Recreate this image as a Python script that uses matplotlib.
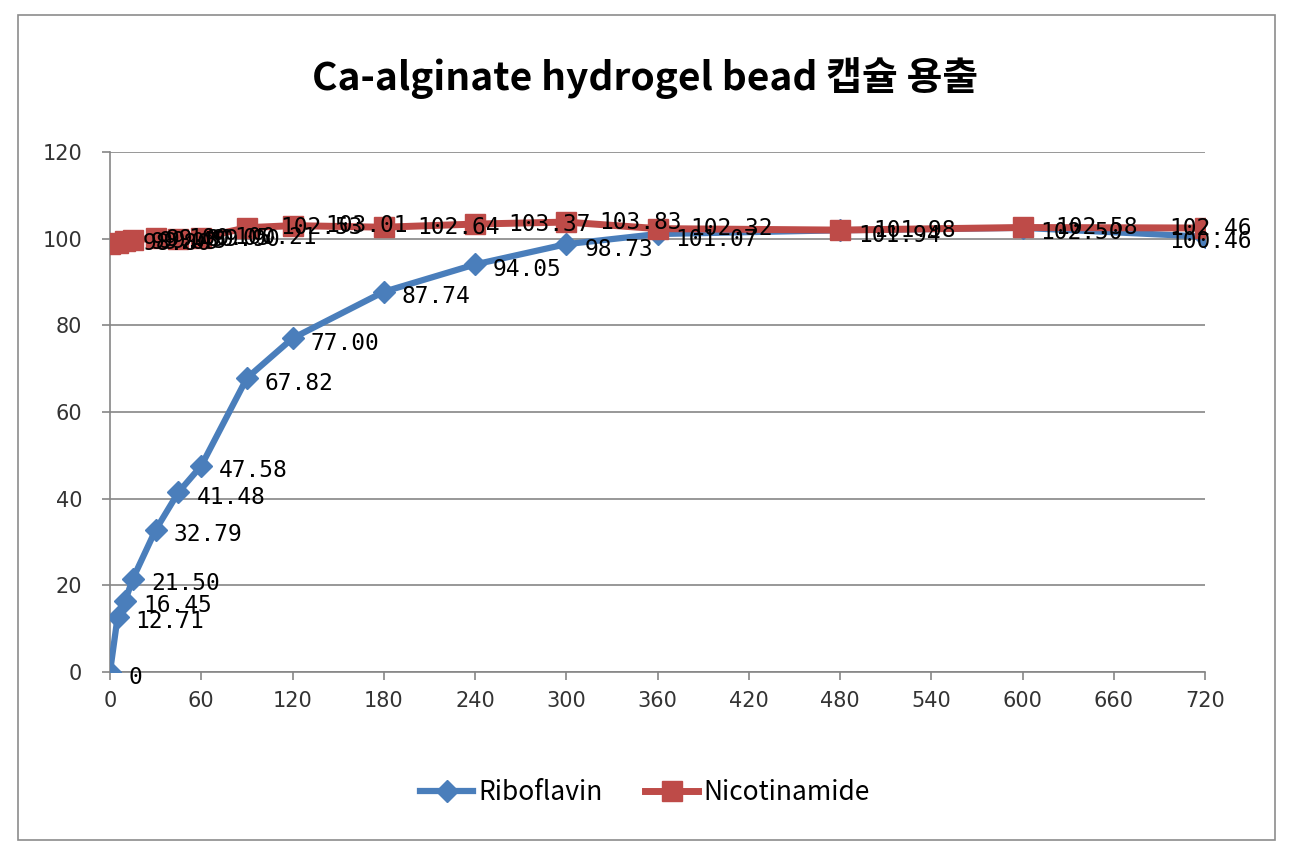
import matplotlib
matplotlib.use("Agg")
import matplotlib.pyplot as plt
from matplotlib.patches import Rectangle

plt.rcParams['font.family'] = ['Noto Sans CJK KR', 'DejaVu Sans']

# release time (min)
time = [0, 5, 10, 15, 30, 45, 60, 90, 120, 180, 240, 300, 360, 480, 600, 720]

riboflavin = [0, 12.71, 16.45, 21.50, 32.79, 41.48, 47.58, 67.82, 77.00,
              87.74, 94.05, 98.73, 101.07, 101.94, 102.50, 100.46]
nicotinamide = [98.80, 99.05, 99.45, 99.80, 100.05, 99.90, 100.21, 102.53, 103.01,
                102.64, 103.37, 103.83, 102.32, 101.98, 102.58, 102.46]

rib_labels = ['0'] + ['%.2f' % v for v in riboflavin[1:]]
nic_labels = ['%.2f' % v for v in nicotinamide]

blue = '#4A7EBB'
red = '#BE4B48'

fig = plt.figure(figsize=(12.9, 8.6), dpi=100)
fig.patches.append(Rectangle((18 / 1290, 1 - 840 / 860), 1257 / 1290, 825 / 860,
                             transform=fig.transFigure, fill=False,
                             edgecolor='#8C8C8C', linewidth=1.2))

ax = fig.add_axes([110 / 1290, 1 - 672 / 860, 1095 / 1290, 520 / 860])

ax.plot(time, riboflavin, color=blue, lw=4.5, marker='D', ms=11,
        label='Riboflavin', zorder=3)
ax.plot(time, nicotinamide, color=red, lw=5, marker='s', ms=14,
        label='Nicotinamide', zorder=4)

px = 0.72  # points per pixel
for i, (t, v) in enumerate(zip(time, riboflavin)):
    dx = 18 if i < len(time) - 1 else -36
    ax.annotate(rib_labels[i], (t, v), xytext=(dx * px, -5 * px),
                textcoords='offset points', ha='left', va='center',
                fontsize=16.5, family='DejaVu Sans Mono', color='black',
                zorder=6, annotation_clip=False)
for i, (t, v) in enumerate(zip(time, nicotinamide)):
    dx = 33 if i < len(time) - 1 else -36
    ax.annotate(nic_labels[i], (t, v), xytext=(dx * px, 0),
                textcoords='offset points', ha='left', va='center',
                fontsize=16.5, family='DejaVu Sans Mono', color='black',
                zorder=6, annotation_clip=False)

ax.set_xlim(0, 720)
ax.set_ylim(0, 120)
ax.set_xticks(range(0, 721, 60))
ax.set_yticks(range(0, 121, 20))
ax.tick_params(axis='both', labelsize=15, colors='#333333', length=6,
               width=1.2, color='#868686', pad=8)
ax.tick_params(axis='y', pad=14)
for lab in ax.get_xticklabels() + ax.get_yticklabels():
    lab.set_family('DejaVu Sans')

ax.grid(axis='y', color='#868686', lw=1.2)
ax.set_axisbelow(True)
for side in ['top', 'right']:
    ax.spines[side].set_visible(False)
for side in ['left', 'bottom']:
    ax.spines[side].set_color('#868686')
    ax.spines[side].set_linewidth(1.2)

fig.text(0.5, 1 - 78 / 860, 'Ca-alginate hydrogel bead 캡슐 용출',
         ha='center', va='center', fontsize=28, fontweight='bold')

fig.legend(loc='center', bbox_to_anchor=(0.5, 1 - 793 / 860), ncol=2,
           frameon=False, fontsize=19, handlelength=2.0, columnspacing=1.6,
           handletextpad=0.2)

fig.savefig('out.png', dpi=100)
